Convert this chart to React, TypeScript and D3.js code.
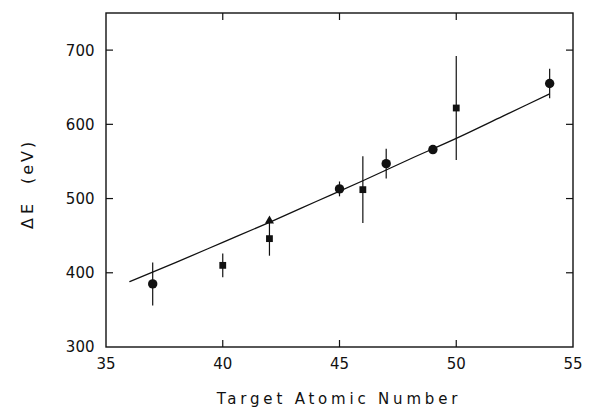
import React from "react";
import * as d3 from "d3";

// Measured energy shifts by target atomic number; marker shape marks the data set
const circleZ = [37, 45, 47, 49, 54];
const circleE = [385, 513, 547, 566, 655];
const circleErr = [29, 10, 20, 3, 20];

const squareZ = [40, 42, 46, 50];
const squareE = [410, 446, 512, 622];
const squareErr = [16, 23, 45, 70];

const triangleZ = [42];
const triangleE = [470];

// Theoretical curve
const curveZ = [36, 38, 40, 42, 44, 46, 48, 50, 52, 54];
const curveE = [388, 414, 441, 468, 496, 524, 553, 581, 611, 641];

const xTicks = [35, 40, 45, 50, 55];
const yTicks = [300, 400, 500, 600, 700];

const W = 590;
const H = 410;
const left = 106;
const right = 573;
const top = 13;
const bottom = 347;

export default function App() {
  const x = d3.scaleLinear().domain([35, 55]).range([left, right]);
  const y = d3.scaleLinear().domain([300, 750]).range([bottom, top]);

  const line = d3
    .line<number>()
    .x((_, i) => x(curveZ[i]))
    .y((d) => y(d))
    .curve(d3.curveMonotoneX);

  const font = "'DejaVu Sans', sans-serif";
  const ink = "#111";
  const tickLen = 7;
  const triangle = d3.symbol(d3.symbolTriangle, 36)() as string;

  return (
    <svg
      width={W}
      height={H}
      style={{ position: "absolute", left: 0, top: 0, background: "#fff" }}
      fontFamily={font}
    >
      {/* frame */}
      <rect
        x={left}
        y={top}
        width={right - left}
        height={bottom - top}
        fill="none"
        stroke={ink}
        strokeWidth={1.4}
      />

      {/* x ticks on bottom and top, pointing inward */}
      {xTicks
        .filter((t) => t > 35 && t < 55)
        .map((t) => (
          <g key={"xt" + t} stroke={ink} strokeWidth={1.2}>
            <line x1={x(t)} x2={x(t)} y1={bottom} y2={bottom - tickLen} />
            <line x1={x(t)} x2={x(t)} y1={top} y2={top + tickLen} />
          </g>
        ))}
      {xTicks.map((t) => (
        <text
          key={"xl" + t}
          x={x(t)}
          y={369}
          textAnchor="middle"
          fontSize={15}
          fill={ink}
        >
          {t}
        </text>
      ))}

      {/* y ticks on left and right, pointing inward */}
      {yTicks
        .filter((t) => t > 300)
        .map((t) => (
          <g key={"yt" + t} stroke={ink} strokeWidth={1.2}>
            <line x1={left} x2={left + tickLen} y1={y(t)} y2={y(t)} />
            <line x1={right} x2={right - tickLen} y1={y(t)} y2={y(t)} />
          </g>
        ))}
      {yTicks.map((t) => (
        <text
          key={"yl" + t}
          x={94.5}
          y={y(t)}
          dy="0.36em"
          textAnchor="end"
          fontSize={15}
          fill={ink}
        >
          {t}
        </text>
      ))}

      {/* axis titles */}
      <text
        x={339}
        y={404}
        textAnchor="middle"
        fontSize={15}
        letterSpacing={3.8}
        fill={ink}
      >
        Target Atomic Number
      </text>
      <g fontSize={16} fill={ink}>
        <text transform="translate(33,229) rotate(-90)" letterSpacing={4}>
          ΔE
        </text>
        <text transform="translate(33,184) rotate(-90)" letterSpacing={3}>
          (eV)
        </text>
      </g>

      {/* theory curve */}
      <path d={line(curveE) ?? ""} fill="none" stroke={ink} strokeWidth={1.3} />

      {/* error bars */}
      {circleZ.map((z, i) => (
        <line
          key={"ce" + i}
          x1={x(z)}
          x2={x(z)}
          y1={y(circleE[i] - circleErr[i])}
          y2={y(circleE[i] + circleErr[i])}
          stroke={ink}
          strokeWidth={1.2}
        />
      ))}
      {squareZ.map((z, i) => (
        <line
          key={"se" + i}
          x1={x(z)}
          x2={x(z)}
          y1={y(squareE[i] - squareErr[i])}
          y2={y(squareE[i] + squareErr[i])}
          stroke={ink}
          strokeWidth={1.2}
        />
      ))}

      {/* markers */}
      {circleZ.map((z, i) => (
        <circle key={"c" + i} cx={x(z)} cy={y(circleE[i])} r={4.7} fill={ink} />
      ))}
      {squareZ.map((z, i) => (
        <rect
          key={"s" + i}
          x={x(z) - 3.4}
          y={y(squareE[i]) - 3.4}
          width={6.8}
          height={6.8}
          fill={ink}
        />
      ))}
      {triangleZ.map((z, i) => (
        <path
          key={"t" + i}
          d={triangle}
          transform={`translate(${x(z)},${y(triangleE[i])})`}
          fill={ink}
        />
      ))}
    </svg>
  );
}
